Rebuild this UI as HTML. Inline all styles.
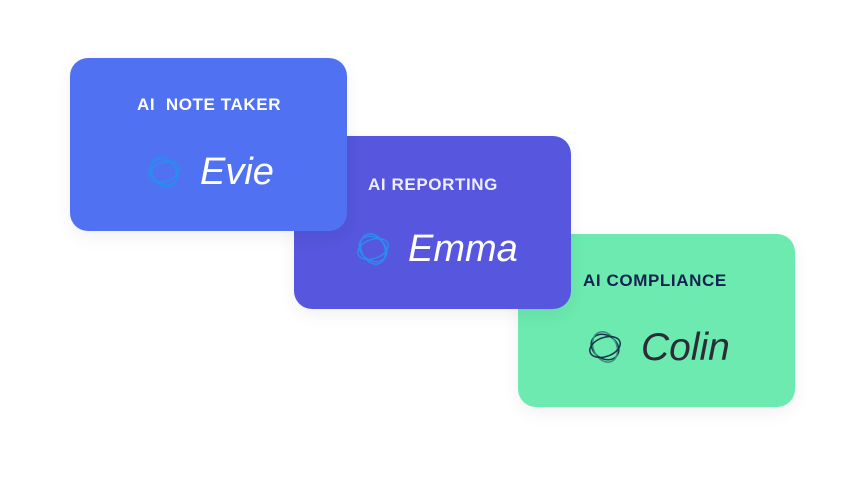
<!DOCTYPE html>
<html><head><style>
body{margin:0;width:866px;height:478px;background:#fff;position:relative;overflow:hidden;font-family:"Liberation Sans",sans-serif}
.c{position:absolute;width:277px;height:173px;border-radius:18px;box-shadow:0 6px 18px rgba(0,0,0,0.06)}
.t{position:absolute;font-size:17px;font-weight:700;letter-spacing:0.6px;white-space:nowrap}
.n{position:absolute;font-size:38px;font-style:italic;white-space:nowrap;line-height:1}
svg{position:absolute}
</style></head><body>
<div class="c" style="left:518px;top:234px;background:#6ceab0;z-index:1">
 <div class="t" style="left:65px;top:37px;color:#14224e">AI COMPLIANCE</div>
 <svg style="left:68px;top:94px" width="38" height="38" viewBox="0 0 36 36"><g fill="none" stroke="#17324a" stroke-width="1.4"><ellipse cx="18" cy="18" rx="14" ry="11" transform="rotate(35 18 18)"/><ellipse cx="18" cy="18" rx="11" ry="15" transform="rotate(-25 18 18)" stroke="#3a8a7a"/><ellipse cx="18" cy="18" rx="9" ry="15" transform="rotate(70 18 18)"/></g></svg>
 <div class="n" style="left:123px;top:94px;color:#2a2d36;font-size:39px">Colin</div>
</div>
<div class="c" style="left:294px;top:136px;background:#5656de;z-index:2">
 <div class="t" style="left:74px;top:39px;color:#eef">AI REPORTING</div>
 <svg style="left:60px;top:94px" width="38" height="38" viewBox="0 0 36 36"><g fill="none" stroke="#2a8cf0" stroke-width="1.4"><ellipse cx="18" cy="18" rx="14" ry="11" transform="rotate(35 18 18)"/><ellipse cx="18" cy="18" rx="11" ry="15" transform="rotate(-25 18 18)"/><ellipse cx="18" cy="18" rx="9" ry="15" transform="rotate(70 18 18)"/></g></svg>
 <div class="n" style="left:114px;top:94px;color:#fff">Emma</div>
</div>
<div class="c" style="left:70px;top:58px;background:#5072f2;z-index:3">
 <div class="t" style="left:67px;top:37px;color:#fff">AI&nbsp; NOTE TAKER</div>
 <svg style="left:75px;top:95px" width="38" height="38" viewBox="0 0 36 36"><g fill="none" stroke="#2a8cf0" stroke-width="1.4"><ellipse cx="18" cy="18" rx="14" ry="11" transform="rotate(35 18 18)"/><ellipse cx="18" cy="18" rx="11" ry="15" transform="rotate(-25 18 18)"/><ellipse cx="18" cy="18" rx="9" ry="15" transform="rotate(70 18 18)"/></g></svg>
 <div class="n" style="left:130px;top:95px;color:#fff">Evie</div>
</div>
</body></html>
